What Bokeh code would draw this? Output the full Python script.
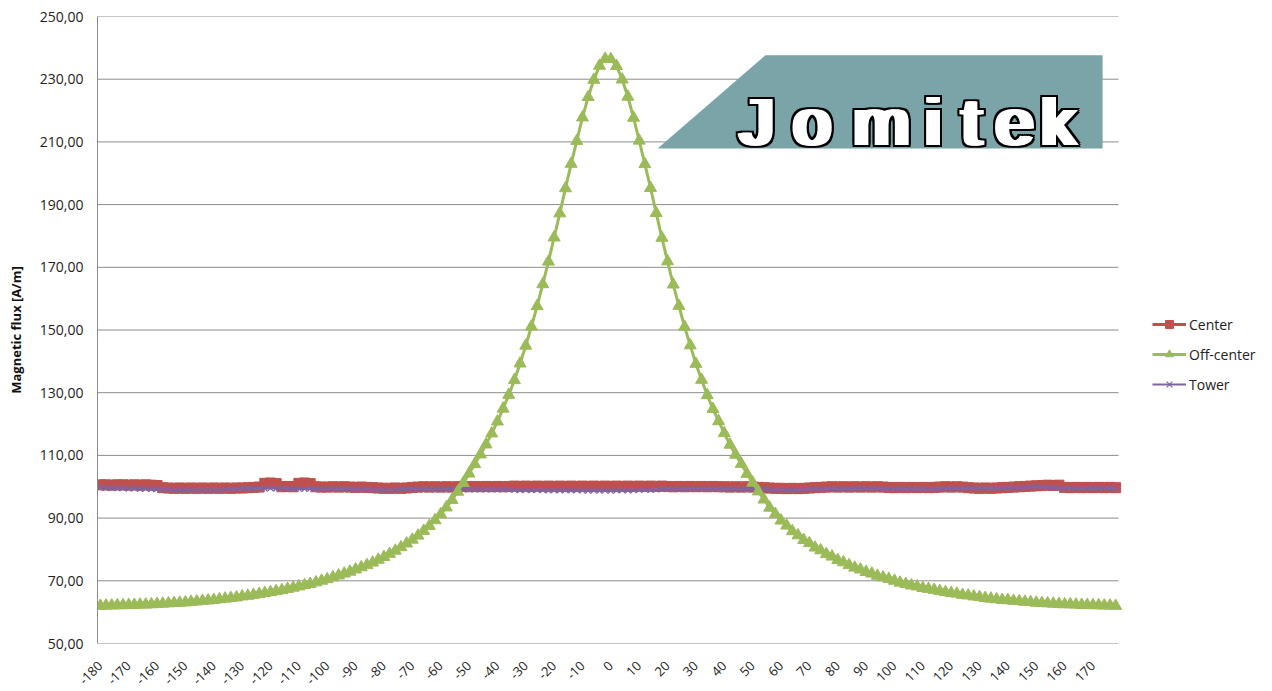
from math import pi
from bokeh.plotting import figure
from bokeh.models import FixedTicker, Legend, LegendItem, Range1d
from bokeh.embed import file_html
from bokeh.resources import INLINE
from bokeh.core.properties import value

# ---------------- data ----------------
angles = list(range(-180, 180, 2))

off_center = [
    62.0, 62.1, 62.1, 62.2, 62.2, 62.3, 62.3, 62.4, 62.4, 62.5,
    62.6, 62.7, 62.8, 62.9, 63.0, 63.1, 63.3, 63.4, 63.6, 63.7,
    63.9, 64.1, 64.3, 64.5, 64.7, 65.0, 65.2, 65.5, 65.8, 66.1,
    66.4, 66.7, 67.0, 67.4, 67.8, 68.2, 68.6, 69.0, 69.5, 70.0,
    70.5, 71.1, 71.7, 72.3, 72.9, 73.6, 74.3, 75.0, 75.8, 76.7,
    77.6, 78.6, 79.6, 80.7, 81.9, 83.1, 84.4, 85.9, 87.5, 89.3,
    91.2, 93.4, 95.8, 98.4, 101.2, 104.2, 107.2, 110.3, 113.5, 117.0,
    120.8, 124.9, 129.3, 134.0, 139.3, 145.0, 151.1, 157.6, 164.6, 171.8,
    179.5, 187.2, 195.2, 203.0, 210.3, 217.8, 224.3, 229.8, 234.3, 236.5,
    236.4, 234.2, 229.9, 224.4, 217.7, 210.4, 202.9, 195.3, 187.3, 179.4,
    171.9, 164.5, 157.7, 151.0, 145.1, 139.2, 134.1, 129.2, 124.8, 120.9,
    117.1, 113.4, 110.2, 107.3, 104.1, 101.3, 98.5, 95.9, 93.3, 91.3,
    89.2, 87.6, 85.8, 84.5, 83.0, 82.0, 80.6, 79.7, 78.5, 77.7,
    76.6, 75.9, 75.0, 74.2, 73.6, 72.8, 72.3, 71.6, 71.1, 70.6,
    70.0, 69.4, 69.0, 68.5, 68.2, 67.7, 67.4, 67.1, 66.7, 66.4,
    66.1, 65.9, 65.5, 65.3, 65.0, 64.8, 64.5, 64.3, 64.1, 63.9,
    63.8, 63.6, 63.5, 63.3, 63.2, 63.0, 62.9, 62.8, 62.7, 62.6,
    62.5, 62.5, 62.4, 62.3, 62.3, 62.2, 62.2, 62.1, 62.1, 62.0,
]

center = [
    100.6, 100.6, 100.5, 100.6, 100.6, 100.5, 100.6, 100.5, 100.6, 100.5,
    100.4, 99.7, 99.6, 99.5, 99.6, 99.5, 99.6, 99.5, 99.6, 99.5,
    99.6, 99.5, 99.6, 99.5, 99.6, 99.6, 99.7, 99.8, 99.9, 101.1,
    101.2, 101.0, 100.0, 100.1, 100.0, 101.1, 101.2, 101.0, 100.0, 99.9,
    99.9, 100.0, 99.9, 100.0, 99.9, 99.8, 99.9, 99.8, 99.7, 99.6,
    99.5, 99.5, 99.6, 99.5, 99.6, 99.8, 99.9, 100.0, 99.9, 100.0,
    99.9, 100.0, 99.9, 100.0, 100.1, 100.0, 100.1, 100.0, 100.1, 100.0,
    100.1, 100.0, 100.1, 100.2, 100.1, 100.2, 100.1, 100.2, 100.1, 100.2,
    100.1, 100.2, 100.1, 100.2, 100.1, 100.2, 100.1, 100.2, 100.1, 100.2,
    100.1, 100.2, 100.1, 100.2, 100.1, 100.2, 100.1, 100.2, 100.1, 100.2,
    100.1, 100.0, 100.1, 100.0, 100.1, 100.0, 100.1, 100.0, 100.1, 100.0,
    100.0, 99.9, 100.0, 99.9, 100.0, 99.9, 99.8, 99.7, 99.6, 99.5,
    99.5, 99.4, 99.5, 99.4, 99.5, 99.6, 99.7, 99.8, 99.9, 100.0,
    99.9, 100.0, 99.9, 100.0, 99.9, 100.0, 99.9, 100.0, 99.9, 99.8,
    99.7, 99.8, 99.7, 99.8, 99.7, 99.8, 99.7, 99.8, 99.9, 100.0,
    99.9, 100.0, 99.9, 99.7, 99.6, 99.5, 99.6, 99.5, 99.6, 99.7,
    99.8, 99.9, 100.0, 100.1, 100.2, 100.3, 100.4, 100.5, 100.4, 100.5,
    99.8, 99.7, 99.8, 99.7, 99.8, 99.7, 99.8, 99.7, 99.8, 99.7,
]

tower = [
    99.8, 99.6, 99.7, 99.5, 99.6, 99.4, 99.5, 99.3, 99.4, 99.2,
    99.3, 99.1, 99.2, 99.0, 99.1, 99.0, 99.1, 99.0, 99.1, 99.0,
    99.1, 99.0, 99.1, 99.2, 99.3, 99.4, 99.5, 99.4, 99.5, 99.4,
    99.5, 99.4, 99.5, 99.4, 99.3, 99.4, 99.3, 99.4, 99.3, 99.4,
    99.3, 99.4, 99.3, 99.4, 99.3, 99.2, 99.3, 99.2, 99.1, 99.0,
    99.1, 99.0, 99.1, 99.2, 99.3, 99.2, 99.3, 99.2, 99.3, 99.2,
    99.3, 99.2, 99.3, 99.2, 99.1, 99.2, 99.1, 99.2, 99.1, 99.2,
    99.1, 99.2, 99.1, 99.0, 98.9, 99.0, 98.9, 99.0, 98.9, 98.8,
    98.9, 98.8, 98.9, 98.8, 98.9, 98.8, 98.7, 98.8, 98.7, 98.8,
    98.7, 98.8, 98.9, 98.8, 98.9, 99.0, 99.1, 99.0, 99.1, 99.2,
    99.3, 99.2, 99.3, 99.4, 99.3, 99.4, 99.3, 99.4, 99.3, 99.4,
    99.3, 99.4, 99.3, 99.2, 99.3, 99.2, 99.1, 99.2, 99.1, 99.0,
    99.1, 99.0, 99.1, 99.0, 99.1, 99.2, 99.3, 99.2, 99.3, 99.4,
    99.3, 99.4, 99.3, 99.4, 99.5, 99.4, 99.5, 99.4, 99.3, 99.4,
    99.3, 99.4, 99.3, 99.2, 99.3, 99.2, 99.3, 99.2, 99.3, 99.4,
    99.5, 99.4, 99.5, 99.6, 99.5, 99.6, 99.5, 99.6, 99.5, 99.6,
    99.7, 99.6, 99.7, 99.8, 99.9, 100.0, 99.9, 99.8, 99.7, 99.6,
    99.5, 99.6, 99.5, 99.6, 99.5, 99.6, 99.5, 99.6, 99.5, 99.6,
]

x_ticks = list(range(-180, 180, 10))
y_ticks = list(range(50, 260, 20))
series_names = ["Center", "Off-center", "Tower"]
logo_text = "Jomitek"

# plotted x extent of the category axis
X_MIN, X_MAX = -181, 179

# ---------------- figure ----------------
FONT = "Open Sans"
GRID = "#8c8c8c"

W, H = 1268, 691
LEFT, TOP, BOTTOM = 97, 16, 48
frame_w = W - LEFT
x_end = X_MIN + (X_MAX - X_MIN) * frame_w / 1021.0   # extra room on the right for the legend

p = figure(width=W, height=H, output_backend="svg", toolbar_location=None,
           x_range=Range1d(X_MIN, x_end), y_range=Range1d(50, 250),
           min_border_left=LEFT, min_border_right=0, min_border_top=TOP, min_border_bottom=BOTTOM)
p.outline_line_color = None
p.background_fill_color = "white"
p.border_fill_color = "white"

p.xgrid.grid_line_color = None
p.ygrid.grid_line_color = None

# horizontal gridlines only across the data area
n = len(y_ticks)
p.segment(x0=[X_MIN] * n, y0=y_ticks, x1=[X_MAX] * n, y1=y_ticks, line_color=GRID, line_width=1)

p.yaxis.ticker = FixedTicker(ticks=y_ticks)
p.yaxis.major_label_overrides = {v: f"{v:.2f}".replace(".", ",") for v in y_ticks}
p.xaxis.ticker = FixedTicker(ticks=x_ticks)
p.xaxis.major_label_overrides = {v: str(v) for v in x_ticks}
p.xaxis.major_label_orientation = pi / 4

for ax in (p.xaxis, p.yaxis):
    ax.axis_line_color = GRID
    ax.axis_line_width = 1
    ax.major_tick_line_color = None
    ax.minor_tick_line_color = None
    ax.major_tick_out = 0
    ax.major_tick_in = 0
    ax.major_label_text_font = FONT
    ax.major_label_text_color = "#222222"
p.xaxis.axis_line_color = None

p.yaxis.major_label_text_font_size = "14px"
p.yaxis.major_label_standoff = 14
p.xaxis.major_label_text_font_size = "13px"
p.xaxis.major_label_standoff = 20

p.yaxis.axis_label = "Magnetic flux [A/m]"
p.yaxis.axis_label_text_font = FONT
p.yaxis.axis_label_text_font_size = "13px"
p.yaxis.axis_label_text_font_style = "bold"
p.yaxis.axis_label_text_color = "#111111"
p.yaxis.axis_label_standoff = 12

# ---------------- series ----------------
RED = "#C0504D"
GREEN = "#9BBB59"
PURPLE = "#8064A2"

c_line = p.line(angles, center, line_color=RED, line_width=3)
c_mark = p.scatter(angles, center, marker="square", size=10, fill_color=RED, line_color=RED)

t_line = p.line(angles, tower, line_color=PURPLE, line_width=2)
t_mark = p.scatter(angles, tower, marker="x", size=8, line_color=PURPLE, line_width=1.2)

o_line = p.line(angles, off_center, line_color=GREEN, line_width=3)
o_mark = p.scatter(angles, off_center, marker="triangle", size=12, fill_color=GREEN, line_color=GREEN)

legend = Legend(items=[
    LegendItem(label=series_names[0], renderers=[c_line, c_mark]),
    LegendItem(label=series_names[1], renderers=[o_line, o_mark]),
    LegendItem(label=series_names[2], renderers=[t_line, t_mark]),
], location=(1055, 249))
legend.background_fill_alpha = 0
legend.border_line_color = None
legend.padding = 0
legend.margin = 0
legend.spacing = 10
legend.glyph_width = 34
legend.glyph_height = 20
legend.label_height = 20
legend.label_standoff = 3
legend.label_text_font = FONT
legend.label_text_font_size = "14px"
legend.label_text_color = "#222222"
p.add_layout(legend, "center")

# ---------------- logo ----------------
logo_x = [16.5, 54.5, 173.4, 173.4]
logo_y = [207.9, 237.6, 237.6, 207.9]
p.patch(logo_x, logo_y, fill_color="#7BA4A8", line_color=None)

letter_x = [51.5, 71.0, 95.4, 113.6, 127.2, 142.4, 157.8]
letter_y = [216.2] * len(letter_x)
letters = list(logo_text)
LOGO_FONT = value("Liberation Sans")
LOGO_SIZE = "66px"
# black outline (horizontally widened)
for dy in (-2, 0, 2):
    for dx in (-6, -4, -2, 0, 2, 4, 6):
        p.text(letter_x, letter_y, text=letters, x_offset=dx, y_offset=dy,
               text_font=LOGO_FONT, text_font_size=LOGO_SIZE,
               text_align="center", text_baseline="alphabetic", text_color="black")
# white fill (horizontally widened)
for dx in (-4, -2.5, -1, 0, 1, 2.5, 4):
    p.text(letter_x, letter_y, text=letters, x_offset=dx,
           text_font=LOGO_FONT, text_font_size=LOGO_SIZE,
           text_align="center", text_baseline="alphabetic", text_color="white")

open("out.html", "w").write(file_html(p, INLINE))
